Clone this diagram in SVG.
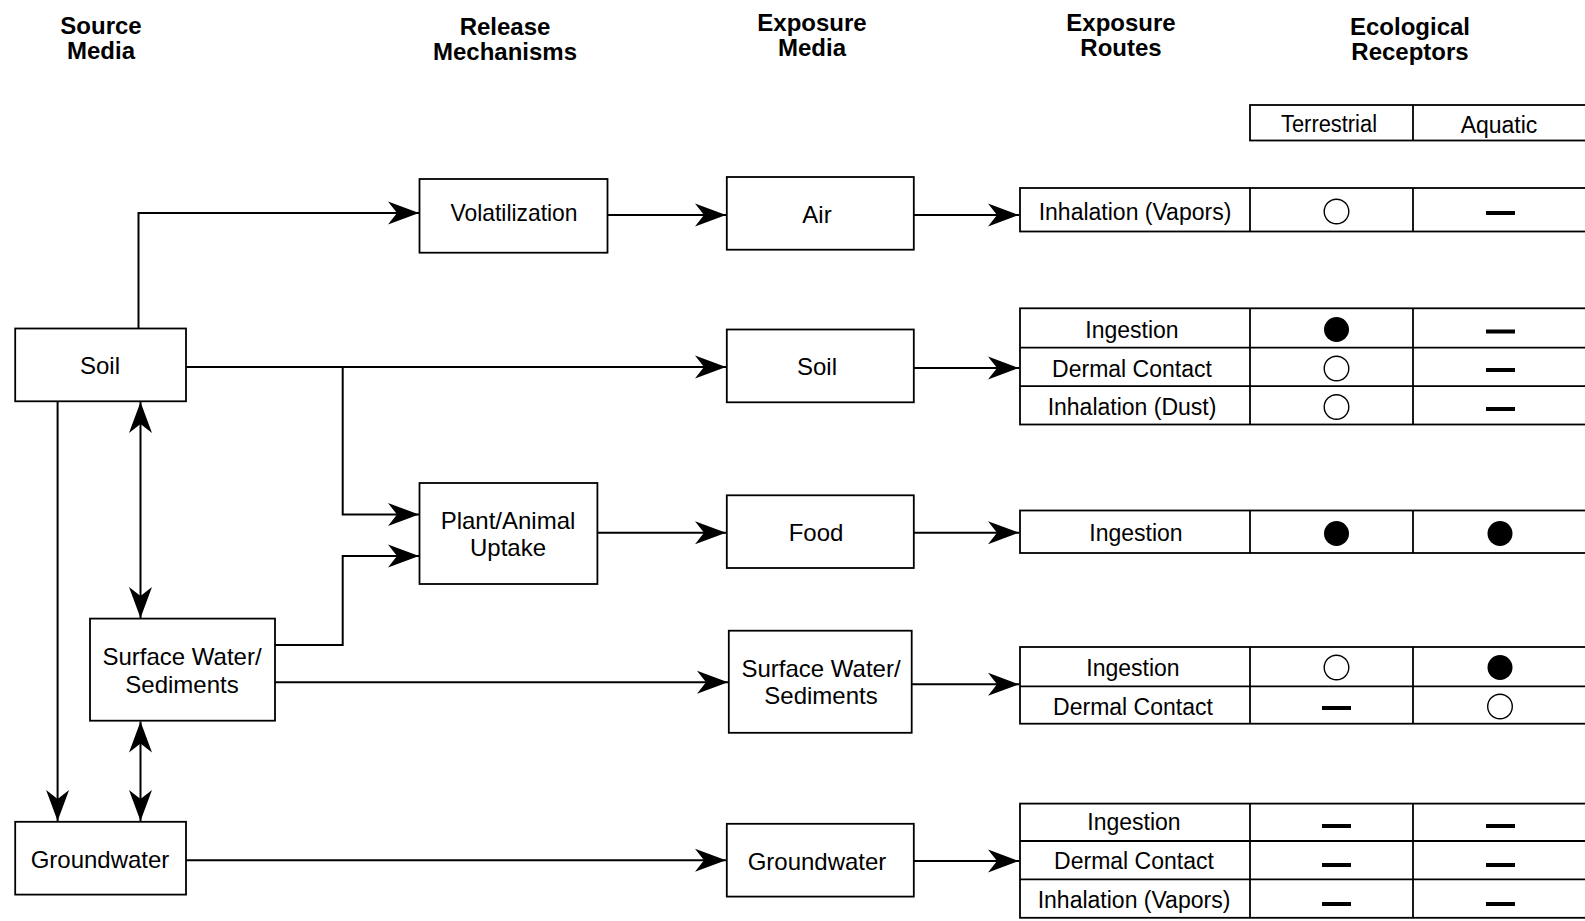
<svg xmlns="http://www.w3.org/2000/svg" width="1585" height="921" viewBox="0 0 1585 921">
<defs>
<marker id="ah" markerUnits="userSpaceOnUse" markerWidth="34" markerHeight="26" viewBox="-32 -13 34 26" refX="0" refY="0" orient="auto-start-reverse">
<path d="M0,0 L-31,-11.5 L-22,0 L-31,11.5 Z" fill="#000"/>
</marker>
<style>
.box{fill:#fff;stroke:#000;stroke-width:1.8}
.cell{fill:none;stroke:#000;stroke-width:1.8}
.t{font-family:"Liberation Sans",Arial,sans-serif;font-size:24px;fill:#000;text-anchor:middle}
.tt{font-family:"Liberation Sans",Arial,sans-serif;font-size:23px;fill:#000;text-anchor:middle}
.h{font-family:"Liberation Sans",Arial,sans-serif;font-size:24px;font-weight:bold;fill:#000;text-anchor:middle}
.c{fill:none;stroke:#000;stroke-width:1.4}
.f{fill:#000}
.con{fill:none;stroke:#000;stroke-width:2}
</style>
</defs>
<rect width="1585" height="921" fill="#fff"/>

<g id="headers">
<text class="h" x="101" y="34">Source</text><text class="h" x="101" y="59">Media</text>
<text class="h" x="505" y="35">Release</text><text class="h" x="505" y="60">Mechanisms</text>
<text class="h" x="812" y="31">Exposure</text><text class="h" x="812" y="56">Media</text>
<text class="h" x="1121" y="31">Exposure</text><text class="h" x="1121" y="56">Routes</text>
<text class="h" x="1410" y="35">Ecological</text><text class="h" x="1410" y="60">Receptors</text>
</g>

<g id="connectors">
<path class="con" d="M138.5,328.5 V213 H419" marker-end="url(#ah)"/>
<path class="con" d="M607.5,215 H726" marker-end="url(#ah)"/>
<path class="con" d="M913.8,215 H1019" marker-end="url(#ah)"/>
<path class="con" d="M186,367 H726" marker-end="url(#ah)"/>
<path class="con" d="M342.7,367 V514.5 H419" marker-end="url(#ah)"/>
<path class="con" d="M275,645 H342.7 V556 H419" marker-end="url(#ah)"/>
<path class="con" d="M597.4,532.7 H726" marker-end="url(#ah)"/>
<path class="con" d="M913.8,532.7 H1019" marker-end="url(#ah)"/>
<path class="con" d="M913.8,368 H1019" marker-end="url(#ah)"/>
<path class="con" d="M275,682.3 H728" marker-end="url(#ah)"/>
<path class="con" d="M911.7,684.3 H1019" marker-end="url(#ah)"/>
<path class="con" d="M186,860.2 H726" marker-end="url(#ah)"/>
<path class="con" d="M913.8,861 H1019" marker-end="url(#ah)"/>
<path class="con" d="M57.6,401.3 V821" marker-end="url(#ah)"/>
<path class="con" d="M140.5,402 V618" marker-start="url(#ah)" marker-end="url(#ah)"/>
<path class="con" d="M140.5,721.5 V821" marker-start="url(#ah)" marker-end="url(#ah)"/>
</g>

<g id="src-soil"><rect class="box" x="15.2" y="328.5" width="170.8" height="72.8"/><text class="t" x="100" y="374">Soil</text></g>
<g id="src-sw"><rect class="box" x="90" y="618.6" width="185" height="102.1"/><text class="t" x="182" y="665">Surface Water/</text><text class="t" x="182" y="693">Sediments</text></g>
<g id="src-gw"><rect class="box" x="15.2" y="821.8" width="170.8" height="72.8"/><text class="t" x="100" y="868">Groundwater</text></g>

<g id="rel-vol"><rect class="box" x="419.5" y="179" width="188" height="73.7"/><text class="t" x="514" y="221" textLength="127" lengthAdjust="spacingAndGlyphs">Volatilization</text></g>
<g id="rel-uptake"><rect class="box" x="419.5" y="483" width="177.9" height="101"/><text class="t" x="508" y="529">Plant/Animal</text><text class="t" x="508" y="556">Uptake</text></g>

<g id="exp-air"><rect class="box" x="726.8" y="177" width="187" height="72.7"/><text class="t" x="817" y="223">Air</text></g>
<g id="exp-soil"><rect class="box" x="726.8" y="329.5" width="187" height="72.8"/><text class="t" x="817" y="375">Soil</text></g>
<g id="exp-food"><rect class="box" x="726.8" y="495.3" width="187" height="72.7"/><text class="t" x="816" y="541">Food</text></g>
<g id="exp-sw"><rect class="box" x="728.8" y="630.7" width="182.9" height="102.1"/><text class="t" x="821" y="677">Surface Water/</text><text class="t" x="821" y="704">Sediments</text></g>
<g id="exp-gw"><rect class="box" x="726.8" y="823.8" width="187" height="72.8"/><text class="t" x="817" y="870">Groundwater</text></g>

<g id="receptor-header">
<rect class="cell" x="1250" y="105" width="345" height="35.5"/>
<line class="cell" x1="1413" y1="105" x2="1413" y2="140.5"/>
<text class="tt" x="1329" y="132" textLength="96" lengthAdjust="spacingAndGlyphs">Terrestrial</text>
<text class="tt" x="1499" y="133">Aquatic</text>
</g>

<g id="route-air">
<rect class="cell" x="1020" y="188" width="575" height="43.5"/>
<line class="cell" x1="1250" y1="188" x2="1250" y2="231.5"/><line class="cell" x1="1413" y1="188" x2="1413" y2="231.5"/>
<text class="tt" x="1135" y="219.5">Inhalation (Vapors)</text>
<circle class="c" cx="1336.5" cy="211.5" r="12.3"/>
<rect class="f" x="1486" y="211" width="29" height="4"/>
</g>

<g id="route-soil">
<rect class="cell" x="1020" y="308.3" width="575" height="116.2"/>
<line class="cell" x1="1020" y1="347.7" x2="1595" y2="347.7"/><line class="cell" x1="1020" y1="386.1" x2="1595" y2="386.1"/>
<line class="cell" x1="1250" y1="308.3" x2="1250" y2="424.5"/><line class="cell" x1="1413" y1="308.3" x2="1413" y2="424.5"/>
<text class="tt" x="1132" y="338">Ingestion</text>
<text class="tt" x="1132" y="376.5">Dermal Contact</text>
<text class="tt" x="1132" y="415">Inhalation (Dust)</text>
<circle class="f" cx="1336.5" cy="329.5" r="12.5"/>
<circle class="c" cx="1336.5" cy="368.5" r="12.3"/>
<circle class="c" cx="1336.5" cy="407" r="12.3"/>
<rect class="f" x="1486" y="329.5" width="29" height="4"/>
<rect class="f" x="1486" y="368" width="29" height="4"/>
<rect class="f" x="1486" y="407" width="29" height="4"/>
</g>

<g id="route-food">
<rect class="cell" x="1020" y="510.5" width="575" height="42.5"/>
<line class="cell" x1="1250" y1="510.5" x2="1250" y2="553"/><line class="cell" x1="1413" y1="510.5" x2="1413" y2="553"/>
<text class="tt" x="1136" y="541">Ingestion</text>
<circle class="f" cx="1336.5" cy="533.5" r="12.5"/>
<circle class="f" cx="1500" cy="533.5" r="12.5"/>
</g>

<g id="route-sw">
<rect class="cell" x="1020" y="647" width="575" height="76.7"/>
<line class="cell" x1="1020" y1="686.3" x2="1595" y2="686.3"/>
<line class="cell" x1="1250" y1="647" x2="1250" y2="723.7"/><line class="cell" x1="1413" y1="647" x2="1413" y2="723.7"/>
<text class="tt" x="1133" y="676">Ingestion</text>
<text class="tt" x="1133" y="715">Dermal Contact</text>
<circle class="c" cx="1336.5" cy="667.5" r="12.3"/>
<circle class="f" cx="1500" cy="667.5" r="12.5"/>
<rect class="f" x="1322" y="706" width="29" height="4"/>
<circle class="c" cx="1500" cy="706.5" r="12.3"/>
</g>

<g id="route-gw">
<rect class="cell" x="1020" y="803.6" width="575" height="114.2"/>
<line class="cell" x1="1020" y1="841" x2="1595" y2="841"/><line class="cell" x1="1020" y1="879.4" x2="1595" y2="879.4"/>
<line class="cell" x1="1250" y1="803.6" x2="1250" y2="917.8"/><line class="cell" x1="1413" y1="803.6" x2="1413" y2="917.8"/>
<text class="tt" x="1134" y="830">Ingestion</text>
<text class="tt" x="1134" y="869">Dermal Contact</text>
<text class="tt" x="1134" y="908">Inhalation (Vapors)</text>
<rect class="f" x="1322" y="824" width="29" height="4"/>
<rect class="f" x="1486" y="824" width="29" height="4"/>
<rect class="f" x="1322" y="863" width="29" height="4"/>
<rect class="f" x="1486" y="863" width="29" height="4"/>
<rect class="f" x="1322" y="902" width="29" height="4"/>
<rect class="f" x="1486" y="902" width="29" height="4"/>
</g>
</svg>
